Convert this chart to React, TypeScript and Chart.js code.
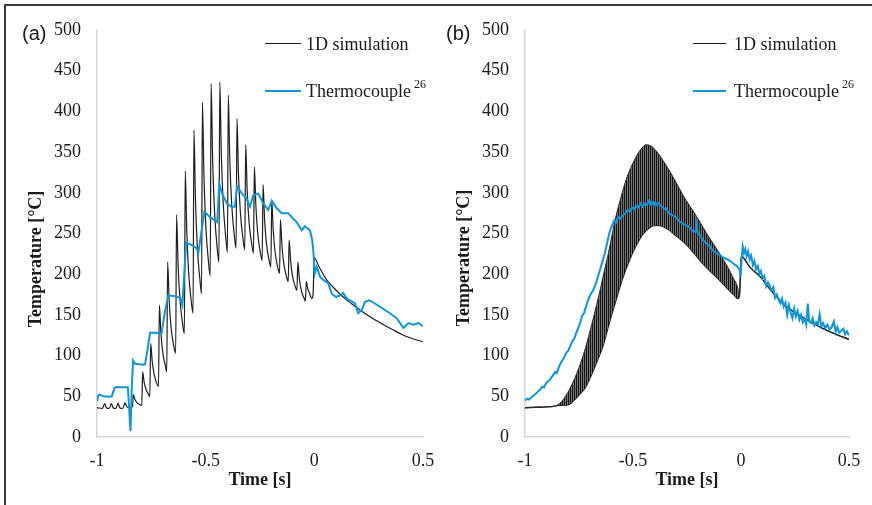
import React, { useEffect, useRef } from "react";
import { Chart, registerables } from "chart.js";

Chart.register(...registerables);

// ---------------- text ----------------
const panelLabels = ["(a)", "(b)"];
const legendLabels = ["1D simulation", "Thermocouple"];
const legendSup = "26";
const xTitle = "Time [s]";
const yTitle = "Temperature [°C]";
const xTickValues = [-1, -0.5, 0, 0.5];
const xTickLabels = ["-1", "-0.5", "0", "0.5"];
const yMin = 0;
const yMax = 500;
const yStep = 50;

// ---------------- panel (a) data ----------------
const simA_t = [
  -1.0, -0.975, -0.965, -0.957, -0.944, -0.934, -0.926, -0.913, -0.903, -0.895, -0.882, -0.871, -0.863, -0.85,
  -0.837, -0.833, -0.826, -0.817, -0.805,
  -0.794, -0.79, -0.783, -0.774, -0.762,
  -0.757, -0.753, -0.746, -0.737, -0.725,
  -0.717, -0.713, -0.706, -0.697, -0.685,
  -0.679, -0.675, -0.668, -0.659, -0.647,
  -0.638, -0.634, -0.627, -0.618, -0.606,
  -0.598, -0.594, -0.587, -0.578, -0.566,
  -0.558, -0.554, -0.547, -0.538, -0.526,
  -0.519, -0.515, -0.508, -0.499, -0.487,
  -0.479, -0.475, -0.468, -0.459, -0.447,
  -0.439, -0.435, -0.428, -0.419, -0.407,
  -0.4, -0.396, -0.389, -0.38, -0.368,
  -0.36, -0.356, -0.349, -0.34, -0.328,
  -0.32, -0.316, -0.309, -0.3, -0.288,
  -0.28, -0.276, -0.269, -0.26, -0.248,
  -0.24, -0.236, -0.229, -0.22, -0.208,
  -0.2, -0.196, -0.189, -0.18, -0.168,
  -0.16, -0.156, -0.149, -0.14, -0.128,
  -0.12, -0.116, -0.109, -0.1, -0.088,
  -0.08, -0.076, -0.069, -0.06, -0.048,
  -0.041, -0.037, -0.03, -0.021,
  -0.012, -0.006, 0.0, 0.02, 0.057, 0.09, 0.133, 0.17, 0.21, 0.26, 0.318, 0.36, 0.41, 0.45, 0.5,
];
const simA_T = [
  36, 35, 41, 36, 35, 41, 36, 35, 41.5, 36, 35, 42, 37, 36,
  37, 52, 46.5, 42.6, 40,
  39, 80, 67, 58, 52,
  49.5, 115, 93, 77, 66,
  62, 162, 128, 103, 87,
  80, 215, 168, 134, 112,
  103, 273, 212, 168, 139,
  127, 327, 253, 201, 166,
  152, 377, 293, 232, 192,
  176, 411, 322, 258, 215,
  198, 434, 342, 276, 232,
  215, 436, 348, 286, 244,
  227, 420, 341, 285, 247,
  232, 391, 323, 275, 243,
  230, 359, 303, 263, 237,
  226, 332, 284, 249, 226,
  217, 310, 268, 237, 217,
  209, 291, 253, 226, 208,
  201, 267, 235, 212, 197,
  191, 242, 216, 197, 185,
  180, 215, 195, 180, 171,
  167, 191, 182, 176,
  170, 175, 220, 210, 193, 183, 172, 164, 156, 147, 138, 132, 125, 121, 117,
];

const tcA_t = [
  -1.0, -0.994, -0.988, -0.97, -0.945, -0.932, -0.92, -0.912, -0.88, -0.858, -0.853, -0.846, -0.84, -0.834,
  -0.825, -0.8, -0.779, -0.766, -0.756, -0.73, -0.703, -0.69, -0.672, -0.64, -0.618, -0.607, -0.59, -0.565,
  -0.542, -0.534, -0.506, -0.48, -0.457, -0.447, -0.437, -0.425, -0.4, -0.38, -0.366, -0.355, -0.335, -0.312,
  -0.296, -0.281, -0.258, -0.235, -0.212, -0.196, -0.173, -0.15, -0.12, -0.097, -0.081, -0.058, -0.043, -0.02,
  -0.01, -0.005, 0.002, 0.011, 0.026, 0.041, 0.064, 0.08, 0.1, 0.118, 0.133, 0.149, 0.164, 0.187, 0.202,
  0.218, 0.233, 0.253, 0.279, 0.302, 0.325, 0.348, 0.379, 0.41, 0.433, 0.456, 0.479, 0.5,
];
const tcA_T = [
  44, 51, 52, 50, 49.5, 50, 60, 61.5, 61, 61, 40, 7, 60, 94,
  90, 89, 89, 110, 128, 128, 127, 150, 174, 173, 171, 162, 239, 236,
  232, 226, 277, 270, 266, 264, 311, 299, 286, 283, 283, 308, 300, 293,
  283, 297, 299, 287, 279, 290, 281, 275, 275, 268, 264, 254, 259, 254,
  242, 230, 201, 209, 197, 193, 189, 176, 172, 174, 177, 170, 168, 164, 152,
  156, 166, 168, 164, 160, 156, 152, 146, 134, 140, 138, 140, 136,
];

// ---------------- panel (b) data ----------------
const simB_upper_t = [
  -1.0, -0.95, -0.9, -0.86, -0.841, -0.82, -0.795, -0.77, -0.749, -0.725, -0.702, -0.68, -0.656, -0.637,
  -0.617, -0.598, -0.579, -0.555, -0.532, -0.51, -0.486, -0.462, -0.44, -0.425, -0.409, -0.385, -0.362,
  -0.34, -0.316, -0.285, -0.255, -0.215, -0.177, -0.14, -0.1, -0.075, -0.054, -0.035, -0.015, -0.008,
  0.002, 0.04, 0.088, 0.13, 0.165, 0.2, 0.242, 0.28, 0.319, 0.36, 0.397, 0.44, 0.5,
];
const simB_upper_T = [
  36, 36.5, 37, 38, 41, 47, 58, 72, 86, 105, 127, 150, 176, 199,
  222, 247, 271, 295, 316, 331, 344, 354, 359, 358.5, 356, 349, 340,
  331, 320, 305, 291, 275, 258, 242, 226, 215, 205, 195, 183, 172,
  222, 209, 197, 183, 172, 163, 154, 148, 142, 136, 131, 126, 120,
];
const simB_lower_t = [
  -1.0, -0.95, -0.9, -0.86, -0.841, -0.82, -0.795, -0.77, -0.745, -0.718, -0.69, -0.665, -0.64, -0.61,
  -0.579, -0.548, -0.517, -0.486, -0.455, -0.425, -0.394, -0.365, -0.332, -0.295, -0.255, -0.215, -0.177,
  -0.14, -0.1, -0.065, -0.031, -0.015, -0.008,
  0.002, 0.04, 0.088, 0.13, 0.165, 0.2, 0.242, 0.28, 0.319, 0.36, 0.397, 0.44, 0.5,
];
const simB_lower_T = [
  36, 36.5, 37, 38, 39, 39, 40, 46, 53, 62, 78, 94, 111, 140,
  168, 195, 217, 235, 249, 257, 260, 259, 254, 246, 237, 225, 213,
  203, 193, 183, 174, 170, 172,
  222, 209, 197, 183, 172, 163, 154, 148, 142, 136, 131, 126, 120,
];

const tcB_t = [
  -1.0, -0.99, -0.98, -0.97, -0.96, -0.95, -0.94, -0.93, -0.92, -0.912, -0.903, -0.89, -0.88, -0.87, -0.86,
  -0.852, -0.84, -0.83, -0.82, -0.81, -0.8, -0.79, -0.78, -0.77, -0.764, -0.755, -0.745, -0.735, -0.727,
  -0.718, -0.705, -0.695, -0.685, -0.671, -0.66, -0.65, -0.64, -0.63, -0.62, -0.61, -0.6, -0.593, -0.587,
  -0.58, -0.57, -0.56, -0.548, -0.535, -0.525, -0.515, -0.505, -0.495, -0.486, -0.475, -0.465, -0.455,
  -0.445, -0.435, -0.425, -0.415, -0.405, -0.395, -0.385, -0.375, -0.365, -0.355, -0.347, -0.335, -0.32,
  -0.301, -0.285, -0.27, -0.255, -0.239, -0.225, -0.21, -0.205, -0.2, -0.19, -0.177, -0.16, -0.145, -0.13,
  -0.113, -0.1, -0.085, -0.07, -0.054, -0.04, -0.025, -0.015, -0.006, -0.002, 0.004, 0.008, 0.014, 0.02,
  0.026, 0.033, 0.04, 0.047, 0.055, 0.062, 0.07, 0.078, 0.085, 0.092, 0.1, 0.108, 0.117, 0.125, 0.133,
  0.141, 0.15, 0.158, 0.166, 0.175, 0.183, 0.19, 0.198, 0.206, 0.214, 0.222, 0.23, 0.238, 0.246, 0.254,
  0.262, 0.27, 0.278, 0.286, 0.294, 0.302, 0.309, 0.316, 0.324, 0.332, 0.34, 0.348, 0.356, 0.364, 0.372,
  0.38, 0.39, 0.4, 0.41, 0.42, 0.43, 0.438, 0.446, 0.455, 0.465, 0.474, 0.482, 0.49, 0.5,
];
const tcB_T = [
  45, 47, 46, 49, 51, 53, 56, 58, 62, 61, 66, 69, 72, 76, 80,
  79, 88, 93, 97, 103, 106, 112, 118, 122, 127, 133, 140, 149, 152,
  160, 170, 176, 180, 189, 199, 208, 217, 226, 238, 250, 258, 262, 266,
  263, 270, 268, 272, 275, 279, 277, 282, 280, 284, 282, 287, 283,
  287, 285, 291, 285, 289, 284, 288, 285, 283, 280, 281, 275, 273,
  270, 265, 262, 260, 258, 253, 252, 262, 250, 248, 242, 238, 234, 229,
  226, 224, 221, 219, 217, 214, 211, 209, 205, 197, 222, 234, 226, 231,
  222, 228, 218, 223, 211, 216, 206, 210, 200, 204, 195, 198, 185, 190, 186,
  180, 184, 171, 175, 168, 164, 170, 160, 165, 150, 162, 153, 146, 158, 148,
  155, 144, 150, 141, 145, 138, 164, 142, 140, 146, 137, 141, 138, 151, 136,
  140, 134, 138, 132, 135, 142, 129, 135, 128, 131, 133, 126, 130, 125,
];

// ---------------- style ----------------
const SERIF = "'Liberation Serif', 'Times New Roman', serif";
const SANS = "'Liberation Sans', Arial, sans-serif";
const BLUE = "#0e95da";
const BLACK = "#1e1e1e";
const TEXT = "#1a1a1a";
const AXIS = "#d6d6d6";

const pts = (xs: number[], ys: number[]) => xs.map((x, i) => ({ x, y: ys[i] }));

type PanelCfg = {
  which: number;
  chartLeft: number;
  padRight: number;
  labelX: number;
  yTitleX: number;
  yTitleY: number;
  legLine0: number;
  legLine1: number;
  legText: number;
};

function makeDecor(cfg: PanelCfg) {
  return {
    id: "decor" + cfg.which,
    afterDraw(chart: any) {
      const ctx: CanvasRenderingContext2D = chart.ctx;
      ctx.save();
      ctx.fillStyle = TEXT;
      ctx.font = `20px ${SANS}`;
      ctx.textAlign = "left";
      ctx.textBaseline = "alphabetic";
      ctx.fillText(panelLabels[cfg.which], cfg.labelX, 39.5);

      ctx.save();
      ctx.font = `bold 18px ${SERIF}`;
      ctx.translate(cfg.yTitleX, cfg.yTitleY);
      ctx.rotate(-Math.PI / 2);
      ctx.textAlign = "center";
      ctx.textBaseline = "alphabetic";
      ctx.fillText(yTitle, 0, 0);
      ctx.restore();

      ctx.lineCap = "butt";
      ctx.strokeStyle = BLACK;
      ctx.lineWidth = 1;
      ctx.beginPath();
      ctx.moveTo(cfg.legLine0, 43.5);
      ctx.lineTo(cfg.legLine1, 43.5);
      ctx.stroke();
      ctx.strokeStyle = BLUE;
      ctx.lineWidth = 2;
      ctx.beginPath();
      ctx.moveTo(cfg.legLine0, 91);
      ctx.lineTo(cfg.legLine1, 91);
      ctx.stroke();

      ctx.fillStyle = TEXT;
      ctx.font = `18px ${SERIF}`;
      ctx.textAlign = "left";
      ctx.fillText(legendLabels[0], cfg.legText, 50);
      ctx.fillText(legendLabels[1], cfg.legText, 97);
      const w = ctx.measureText(legendLabels[1]).width;
      ctx.font = `12px ${SERIF}`;
      ctx.fillText(legendSup, cfg.legText + w + 3, 88);
      ctx.restore();
    },
  };
}

function buildOptions(cfg: PanelCfg) {
  return {
    animation: false as const,
    responsive: false,
    maintainAspectRatio: false,
    events: [] as any[],
    layout: { padding: { left: 0, right: cfg.padRight, top: 30, bottom: 14 } },
    plugins: {
      legend: { display: false },
      tooltip: { enabled: false },
      title: { display: false },
    },
    elements: { point: { radius: 0 } },
    scales: {
      x: {
        type: "linear" as const,
        min: xTickValues[0],
        max: xTickValues[xTickValues.length - 1],
        afterBuildTicks: (scale: any) => {
          scale.ticks = xTickValues.map((v) => ({ value: v }));
        },
        ticks: {
          padding: 13,
          color: TEXT,
          font: { family: SERIF, size: 18 },
          maxRotation: 0,
          callback: (v: any) => {
            const i = xTickValues.indexOf(Number(v));
            return i >= 0 ? xTickLabels[i] : "";
          },
        },
        grid: { display: false, drawTicks: false },
        border: { display: true, color: AXIS, width: 1.5 },
        title: {
          display: true,
          text: xTitle,
          color: TEXT,
          font: { family: SERIF, size: 18, weight: "bold" as const },
          padding: { top: 0, bottom: 0 },
        },
        afterFit: (scale: any) => {
          scale.height = 54;
          scale.paddingLeft = 0;
          scale.paddingRight = 0;
        },
      },
      y: {
        type: "linear" as const,
        min: yMin,
        max: yMax,
        ticks: {
          stepSize: yStep,
          padding: 16,
          color: TEXT,
          font: { family: SERIF, size: 18 },
        },
        grid: { display: false, drawTicks: false },
        border: { display: true, color: AXIS, width: 1.5 },
        afterFit: (scale: any) => {
          scale.width = cfg.chartLeft;
          scale.paddingTop = 0;
          scale.paddingBottom = 0;
        },
      },
    },
  };
}

const cfgA: PanelCfg = {
  which: 0,
  chartLeft: 97,
  padRight: 13,
  labelX: 22,
  yTitleX: 41,
  yTitleY: 259,
  legLine0: 265,
  legLine1: 301,
  legText: 306,
};
const cfgB: PanelCfg = {
  which: 1,
  chartLeft: 89,
  padRight: 23,
  labelX: 10,
  yTitleX: 33,
  yTitleY: 258,
  legLine0: 257,
  legLine1: 290,
  legText: 298,
};

function PanelA() {
  const ref = useRef<HTMLCanvasElement>(null);
  useEffect(() => {
    const chart = new Chart(ref.current as HTMLCanvasElement, {
      type: "line",
      data: {
        datasets: [
          {
            label: legendLabels[1],
            data: pts(tcA_t, tcA_T),
            borderColor: BLUE,
            borderWidth: 2,
            pointRadius: 0,
            tension: 0,
            fill: false,
          },
          {
            label: legendLabels[0],
            data: pts(simA_t, simA_T),
            borderColor: BLACK,
            borderWidth: 1.2,
            pointRadius: 0,
            cubicInterpolationMode: "monotone",
            fill: false,
          },
        ],
      },
      options: buildOptions(cfgA) as any,
      plugins: [makeDecor(cfgA)],
    });
    return () => chart.destroy();
  }, []);
  return (
    <canvas
      ref={ref}
      width={436}
      height={505}
      style={{ position: "absolute", left: 0, top: 0, width: 436, height: 505, display: "block" }}
    />
  );
}

function PanelB() {
  const ref = useRef<HTMLCanvasElement>(null);
  useEffect(() => {
    const canvas = ref.current as HTMLCanvasElement;
    const pc = document.createElement("canvas");
    pc.width = 2;
    pc.height = 2;
    const pctx = pc.getContext("2d") as CanvasRenderingContext2D;
    pctx.fillStyle = "#767676";
    pctx.fillRect(0, 0, 2, 2);
    pctx.fillStyle = "#121212";
    pctx.fillRect(0, 0, 1, 2);
    const ctx = canvas.getContext("2d") as CanvasRenderingContext2D;
    const pattern = ctx.createPattern(pc, "repeat");

    const chart = new Chart(canvas, {
      type: "line",
      data: {
        datasets: [
          {
            label: legendLabels[1],
            data: pts(tcB_t, tcB_T),
            borderColor: BLUE,
            borderWidth: 2,
            pointRadius: 0,
            tension: 0,
            fill: false,
          },
          {
            label: legendLabels[0],
            data: pts(simB_upper_t, simB_upper_T),
            borderColor: "#2a2a2a",
            borderWidth: 1,
            pointRadius: 0,
            cubicInterpolationMode: "monotone",
            fill: "+1",
            backgroundColor: pattern as any,
          },
          {
            label: legendLabels[0] + " ",
            data: pts(simB_lower_t, simB_lower_T),
            borderColor: "#1a1a1a",
            borderWidth: 1.4,
            pointRadius: 0,
            cubicInterpolationMode: "monotone",
            fill: false,
          },
        ],
      },
      options: buildOptions(cfgB) as any,
      plugins: [makeDecor(cfgB)],
    });
    return () => chart.destroy();
  }, []);
  return (
    <canvas
      ref={ref}
      width={436}
      height={505}
      style={{ position: "absolute", left: 436, top: 0, width: 436, height: 505, display: "block" }}
    />
  );
}

export default function App() {
  return (
    <div
      style={{
        position: "fixed",
        left: 0,
        top: 0,
        width: 872,
        height: 505,
        background: "#ffffff",
        overflow: "hidden",
      }}
    >
      <div
        style={{
          position: "absolute",
          left: 4,
          top: 4,
          width: 868,
          height: 501,
          boxSizing: "border-box",
          borderTop: "2px solid #3a3a3a",
          borderLeft: "2px solid #3a3a3a",
        }}
      />
      <PanelA />
      <PanelB />
    </div>
  );
}
